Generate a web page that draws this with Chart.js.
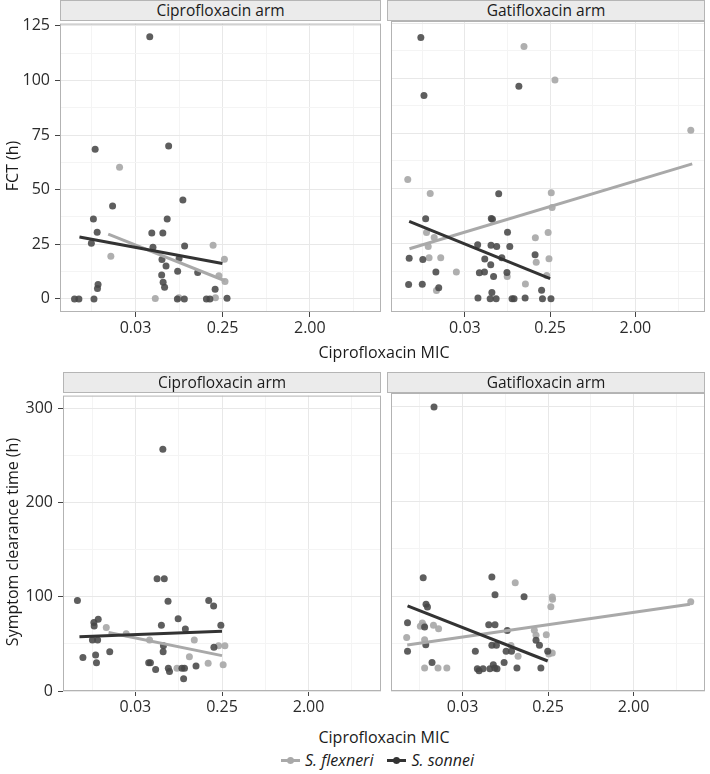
<!DOCTYPE html>
<html>
<head>
<meta charset="utf-8">
<script src="https://cdn.jsdelivr.net/npm/chart.js@4.4.1/dist/chart.umd.min.js"></script>
<style>
body { margin: 0; background: #fff; font-family: 'Open Sans', sans-serif; color: #1a1a1a; }
#wrap { position: relative; width: 710px; height: 774px; overflow: hidden; background: #fff; }
#wrap canvas { position: absolute; }
.strip { position: absolute; background: #ebebeb; border: 1px solid #b5b5b5; box-sizing: border-box;
         text-align: center; font-size: 15.5px; line-height: 19px; height: 21px; }
.lbl { position: absolute; white-space: nowrap; font-size: 16px; transform: translate(-50%, -50%); }
.ytitle { transform: translate(-50%, -50%) rotate(-90deg); }
#legend { position: absolute; left: 281px; top: 749px; display: flex; align-items: center; font-size: 16px; }
#legend i { margin: 0 14px 0 5px; }
.key { position: relative; display: inline-block; width: 19px; height: 3px; }
.key::after { content: ''; position: absolute; left: 6px; top: -2px; width: 7px; height: 7px; border-radius: 50%; background: inherit; }
</style>
</head>
<body>
<div id="wrap"></div>
<script>
// x values are log2(Ciprofloxacin MIC) as plotted (jittered); y values in hours

// FCT, Ciprofloxacin arm
const fct_cip_flexneri = [[-5.55,60.3],[-5.85,19.5],[-2.33,24.5],[-1.94,18.1],[-2.13,10.6],[-1.92,8.0],
    [-4.32,0.2],[-3.51,0.5],[-2.25,0.5]];
const fct_cip_sonnei = [[-4.51,120.0],[-6.39,68.5],[-3.86,70.0],[-3.37,45.3],[-5.79,42.5],[-6.45,36.6],
    [-3.91,36.6],[-6.32,30.5],[-4.44,30.2],[-4.06,30.2],[-6.52,25.5],[-4.40,23.6],[-3.31,24.2],[-4.09,18.0],
    [-3.95,15.0],[-3.50,18.5],[-3.55,12.7],[-2.86,12.1],[-4.10,10.9],[-4.05,7.6],[-4.00,5.3],[-6.29,6.6],
    [-6.31,4.8],[-2.26,4.4],[-7.10,0],[-6.95,0],[-6.43,0],[-3.56,0],[-3.32,0],[-2.56,0],[-2.44,0],[-1.85,0.3]];
const fct_cip_fit_flexneri = [[-5.94,29.6],[-1.92,8.3]];
const fct_cip_fit_sonnei = [[-6.93,28.3],[-2.01,16.2]];

// FCT, Gatifloxacin arm
const fct_gat_flexneri = [[-2.92,114.4],[-1.83,99.2],[2.95,76.5],[-7.01,54.1],[-6.22,47.8],[-1.96,48.1],
    [-1.93,41.4],[-6.35,30.1],[-2.07,30.1],[-6.08,27.8],[-2.52,27.7],[-6.29,23.7],[-6.26,18.6],[-5.85,18.6],
    [-2.04,18.1],[-2.49,16.6],[-5.30,12.1],[-3.51,10.1],[-2.12,10.6],[-2.87,6.7],[-6.00,3.8]];
const fct_gat_sonnei = [[-6.55,118.5],[-6.44,92.2],[-3.10,96.4],[-3.81,47.6],[-6.38,36.3],[-4.07,36.4],
    [-4.03,36.1],[-3.50,30.2],[-4.55,24.5],[-4.08,24.3],[-3.88,23.7],[-3.42,23.7],[-2.53,20.0],[-6.96,18.4],
    [-6.48,17.8],[-4.30,18.0],[-3.70,18.6],[-4.09,15.4],[-6.02,12.2],[-4.49,11.8],[-4.31,12.1],[-3.52,11.9],
    [-3.99,10.1],[-6.98,6.5],[-6.50,6.6],[-5.92,5.0],[-2.30,3.9],[-4.05,2.9],[-4.54,0.3],[-4.11,0],[-3.90,0],
    [-3.34,0],[-3.27,0],[-2.88,0.4],[-2.27,0],[-1.97,0]];
const fct_gat_fit_flexneri = [[-6.95,22.7],[3.0,61.2]];
const fct_gat_fit_sonnei = [[-6.96,35.1],[-2.0,9.1]];

// Symptom clearance time, Ciprofloxacin arm
const sct_cip_flexneri = [[-6.01,67.5],[-5.32,60.8],[-4.51,54.2],[-2.96,54.2],[-2.12,48.2],[-1.90,48.2],
    [-3.13,36.3],[-3.56,24.2],[-2.48,29.6],[-1.96,27.8]];
const sct_cip_sonnei = [[-4.05,257.1],[-4.25,119.4],[-4.00,119.4],[-7.01,96.2],[-3.87,95.5],[-2.46,96.2],
    [-2.29,90.3],[-6.29,76.2],[-6.44,72.7],[-6.43,69.2],[-3.52,76.9],[-4.10,69.9],[-3.27,66.0],[-2.04,69.9],
    [-6.49,54.1],[-6.31,54.1],[-4.03,48.1],[-4.04,41.8],[-2.28,46.4],[-6.82,35.5],[-6.38,38.3],[-5.89,41.8],
    [-6.35,29.9],[-4.54,29.9],[-4.48,29.9],[-4.30,22.8],[-3.86,24.2],[-3.82,20.7],[-3.39,24.2],[-3.30,24.2],
    [-2.90,26.7],[-3.33,13.0]];
const sct_cip_fit_flexneri = [[-5.93,62.2],[-2.0,37.6]];
const sct_cip_fit_sonnei = [[-6.94,57.6],[-2.0,63.6]];

// Symptom clearance time, Gatifloxacin arm
const sct_gat_flexneri = [[-3.15,114.0],[-1.85,99.1],[-1.84,96.6],[-1.90,88.9],[-6.96,56.5],[-6.41,71.7],
    [-6.48,68.1],[-6.37,69.2],[-6.02,69.2],[-5.84,65.7],[-6.33,54.1],[-6.33,24.3],[-5.86,24.3],[-5.55,24.3],
    [-3.05,36.6],[-2.48,64.0],[-2.42,58.7],[-2.06,59.4],[-1.97,39.0],[-1.85,40.0],[-3.30,48.0],[3.01,94.0]];
const sct_gat_sonnei = [[-6.00,299.3],[-6.38,119.4],[-3.97,120.1],[-3.86,101.5],[-2.84,99.4],[-6.28,91.3],
    [-6.23,88.5],[-6.93,72.0],[-6.33,67.4],[-4.08,69.9],[-3.86,69.9],[-6.29,48.8],[-6.93,41.8],[-4.55,41.8],
    [-3.97,48.1],[-3.81,48.1],[-3.47,41.8],[-3.28,41.8],[-3.43,63.8],[-2.42,53.4],[-2.30,48.1],[-2.01,41.8],
    [-6.07,29.9],[-3.54,29.9],[-3.09,24.2],[-2.25,24.2],[-4.48,23.5],[-4.42,21.4],[-4.28,23.5],[-4.04,23.5],
    [-3.92,27.7],[-3.87,24.2],[-3.79,23.5]];
const sct_gat_fit_flexneri = [[-6.94,48.4],[2.98,91.3]];
const sct_gat_fit_sonnei = [[-6.93,89.6],[-2.01,31.6]];

// axis breaks (log2 MIC) and tick labels
const x_major = [-5, -2, 1];
const x_minor = [-6.5, -3.5, -0.5, 2.5];
const fct_major = [0, 25, 50, 75, 100, 125];
const fct_minor = [12.5, 37.5, 62.5, 87.5, 112.5];
const sct_major = [0, 100, 200, 300];
const sct_minor = [50, 150, 250];
const species = ['S. flexneri', 'S. sonnei'];

const FLEX_DOT = 'rgba(168,168,168,0.92)';
const SONN_DOT = 'rgba(72,72,72,0.88)';
const FLEX_LINE = '#a9a9a9';
const SONN_LINE = '#333333';
const TICK_FONT = { family: "'Open Sans', sans-serif", size: 16 };

const panel_box = {
    id: 'panelBox',
    afterDraw(chart) {
        const { ctx, chartArea: a } = chart;
        ctx.save();
        ctx.strokeStyle = '#b3b3b3';
        ctx.lineWidth = 1;
        ctx.strokeRect(a.left + 0.5, a.top + 0.5, a.right - a.left - 1, a.bottom - a.top - 1);
        ctx.restore();
    }
};

const wrap = document.getElementById('wrap');

function to_xy(rows) {
    return rows.map(r => ({ x: r[0], y: r[1] }));
}

function draw_panel(p) {
    const pad_top = 12, pad_right = 6, x_axis_h = 34;
    const axis_w = p.show_y ? p.left : 0;
    const canvas = document.createElement('canvas');
    canvas.width = p.right - p.left + axis_w + pad_right;
    canvas.height = p.bottom - p.top + pad_top + x_axis_h;
    canvas.style.left = (p.left - axis_w) + 'px';
    canvas.style.top = (p.top - pad_top) + 'px';
    wrap.appendChild(canvas);

    const x_ticks = x_major.concat(x_minor).sort((a, b) => a - b);
    const y_ticks = p.y_major.concat(p.y_minor).sort((a, b) => a - b);

    new Chart(canvas, {
        type: 'scatter',
        data: {
            datasets: [
                { data: to_xy(p.fit_sonnei), showLine: true, pointRadius: 0, borderColor: SONN_LINE, borderWidth: 3, order: 0 },
                { data: to_xy(p.fit_flexneri), showLine: true, pointRadius: 0, borderColor: FLEX_LINE, borderWidth: 3, order: 1 },
                { data: to_xy(p.sonnei), pointRadius: 3.5, borderWidth: 0, backgroundColor: SONN_DOT, order: 2 },
                { data: to_xy(p.flexneri), pointRadius: 3.5, borderWidth: 0, backgroundColor: FLEX_DOT, order: 3 }
            ]
        },
        options: {
            responsive: false,
            animation: false,
            events: [],
            layout: { padding: { top: pad_top, right: pad_right, left: 0, bottom: 0 } },
            plugins: { legend: { display: false }, tooltip: { enabled: false } },
            scales: {
                x: {
                    type: 'linear', min: p.x_min, max: p.x_max, bounds: 'data',
                    afterBuildTicks: s => { s.ticks = x_ticks.map(v => ({ value: v })); },
                    afterFit: s => { s.height = x_axis_h; },
                    border: { display: false },
                    grid: {
                        color: c => x_major.includes(c.tick.value) ? '#e8e8e8' : '#f4f4f4',
                        tickColor: c => x_major.includes(c.tick.value) ? '#444' : 'rgba(0,0,0,0)',
                        tickLength: 5
                    },
                    ticks: {
                        autoSkip: false, maxRotation: 0, padding: 2, color: '#2b2b2b', font: TICK_FONT,
                        callback: v => x_major.includes(v) ? Math.pow(2, v).toFixed(2) : ''
                    }
                },
                y: {
                    type: 'linear', min: p.y_min, max: p.y_max, bounds: 'data',
                    afterBuildTicks: s => { s.ticks = y_ticks.map(v => ({ value: v })); },
                    afterFit: s => { s.width = axis_w; },
                    border: { display: false },
                    grid: {
                        color: c => p.y_major.includes(c.tick.value) ? '#e8e8e8' : '#f4f4f4',
                        tickColor: c => p.y_major.includes(c.tick.value) ? '#444' : 'rgba(0,0,0,0)',
                        tickLength: 5,
                        drawTicks: p.show_y
                    },
                    ticks: {
                        display: p.show_y, autoSkip: false, padding: 5, color: '#2b2b2b', font: TICK_FONT,
                        callback: v => p.y_major.includes(v) ? String(v) : ''
                    }
                }
            }
        },
        plugins: [panel_box]
    });

    const strip = document.createElement('div');
    strip.className = 'strip';
    strip.textContent = p.strip;
    strip.style.left = p.left + 'px';
    strip.style.width = (p.right - p.left) + 'px';
    strip.style.top = (p.top - 21) + 'px';
    wrap.appendChild(strip);
}

const panels = [
    { strip: 'Ciprofloxacin arm', left: 60, right: 381, top: 21, bottom: 312, show_y: true,
      x_min: -7.60, x_max: 3.45, y_min: -6, y_max: 126, y_major: fct_major, y_minor: fct_minor,
      flexneri: fct_cip_flexneri, sonnei: fct_cip_sonnei, fit_flexneri: fct_cip_fit_flexneri, fit_sonnei: fct_cip_fit_sonnei },
    { strip: 'Gatifloxacin arm', left: 387, right: 705, top: 21, bottom: 312, show_y: false,
      x_min: -7.60, x_max: 3.45, y_min: -6, y_max: 126, y_major: fct_major, y_minor: fct_minor,
      flexneri: fct_gat_flexneri, sonnei: fct_gat_sonnei, fit_flexneri: fct_gat_fit_flexneri, fit_sonnei: fct_gat_fit_sonnei },
    { strip: 'Ciprofloxacin arm', left: 63, right: 381, top: 393, bottom: 691, show_y: true,
      x_min: -7.51, x_max: 3.51, y_min: 0, y_max: 314, y_major: sct_major, y_minor: sct_minor,
      flexneri: sct_cip_flexneri, sonnei: sct_cip_sonnei, fit_flexneri: sct_cip_fit_flexneri, fit_sonnei: sct_cip_fit_sonnei },
    { strip: 'Gatifloxacin arm', left: 387, right: 705, top: 393, bottom: 691, show_y: false,
      x_min: -7.51, x_max: 3.51, y_min: 0, y_max: 314, y_major: sct_major, y_minor: sct_minor,
      flexneri: sct_gat_flexneri, sonnei: sct_gat_sonnei, fit_flexneri: sct_gat_fit_flexneri, fit_sonnei: sct_gat_fit_sonnei }
];
panels.forEach(draw_panel);

function add_label(text, x, y, cls) {
    const d = document.createElement('div');
    d.className = 'lbl' + (cls ? ' ' + cls : '');
    d.textContent = text;
    d.style.left = x + 'px';
    d.style.top = y + 'px';
    wrap.appendChild(d);
}
add_label('FCT (h)', 12, 166, 'ytitle');
add_label('Symptom clearance time (h)', 12, 542, 'ytitle');
add_label('Ciprofloxacin MIC', 384, 352);
add_label('Ciprofloxacin MIC', 384, 737);

const legend = document.createElement('div');
legend.id = 'legend';
legend.innerHTML =
    `<span class="key" style="background:${FLEX_LINE}"></span><i>${species[0]}</i>` +
    `<span class="key" style="background:${SONN_LINE}"></span><i>${species[1]}</i>`;
wrap.appendChild(legend);
</script>
</body>
</html>
